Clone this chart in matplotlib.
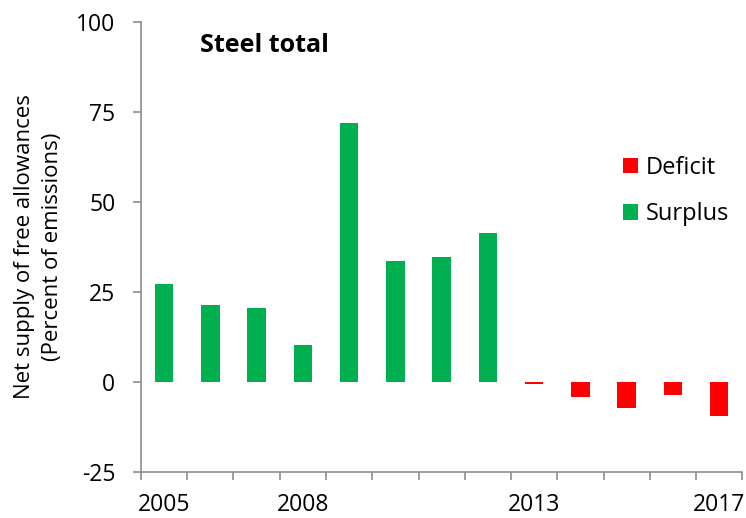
import matplotlib.pyplot as plt
import numpy as np

plt.rcParams['font.family'] = ['Open Sans', 'DejaVu Sans']
plt.rcParams['axes.unicode_minus'] = False

# data
years = [2005, 2006, 2007, 2008, 2009, 2010, 2011, 2012, 2013, 2014, 2015, 2016, 2017]
surplus = [27.1, 21.3, 20.4, 10.2, 71.8, 33.7, 34.6, 41.3, 0, 0, 0, 0, 0]
deficit = [0, 0, 0, 0, 0, 0, 0, 0, -0.5, -4.3, -7.3, -3.7, -9.6]
shown_labels = [2005, 2008, 2013, 2017]

green = '#00B050'
red = '#FF0000'
grey = '#8C8C8C'

fig = plt.figure(figsize=(7.46, 5.18), dpi=100)
ax = fig.add_axes([0.189, 0.089, 0.806, 0.869])

x = np.arange(len(years))
ax.bar(x, deficit, width=0.4, color=red, label='Deficit')
ax.bar(x, surplus, width=0.4, color=green, label='Surplus')

ax.set_xlim(-0.5, len(years) - 0.5)
ax.set_ylim(-25, 100)
ax.set_yticks([-25, 0, 25, 50, 75, 100])

# year labels at the bar centres, tick marks between categories
ax.set_xticks(x)
ax.set_xticklabels([str(y) if y in shown_labels else '' for y in years])
ax.set_xticks(np.arange(len(years) + 1) - 0.5, minor=True)
ax.tick_params(axis='x', which='major', length=0, pad=15.5, labelsize=16.5)
ax.tick_params(axis='x', which='minor', length=5.5, width=1.2, color=grey, direction='out')
ax.tick_params(axis='y', length=5.5, width=1.2, color=grey, labelsize=16.5, pad=13)

for s in ['top', 'right']:
    ax.spines[s].set_visible(False)
for s in ['left', 'bottom']:
    ax.spines[s].set_color(grey)
    ax.spines[s].set_linewidth(1.2)

ax.set_ylabel('Net supply of free allowances\n(Percent of emissions)', fontsize=16, linespacing=1.45)
ax.yaxis.set_label_coords(-0.13, 0.5)
ax.text(0.098, 0.947, 'Steel total', transform=ax.transAxes, fontsize=18, fontweight='bold', va='center')

ax.legend(loc='upper left', bbox_to_anchor=(0.802, 0.702), frameon=False, fontsize=17,
          borderpad=0, borderaxespad=0,
          handlelength=0.64, handleheight=0.64, handletextpad=0.3, labelspacing=0.95)

fig.savefig('out.png', dpi=100)
